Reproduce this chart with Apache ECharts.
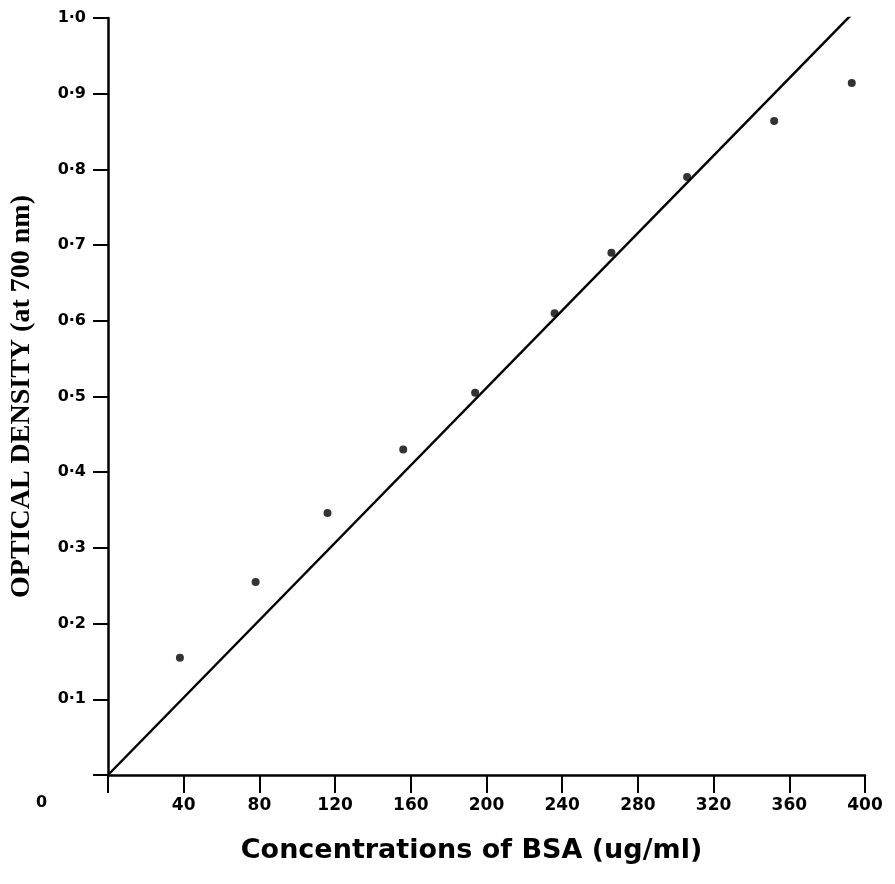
<!DOCTYPE html>
<html>
<head>
<meta charset="utf-8">
<script src="https://cdn.jsdelivr.net/npm/echarts@6/dist/echarts.min.js"></script>
<style>
  html, body { margin: 0; padding: 0; background: #fff; }
  #chart { width: 895px; height: 884px; }
</style>
</head>
<body>
<div id="chart"></div>
<script>
// measured points (concentration ug/ml, optical density)
const concentrations = [38, 78, 116, 156, 194, 236, 266, 306, 352, 393];
const densities = [0.155, 0.255, 0.346, 0.43, 0.505, 0.61, 0.69, 0.79, 0.864, 0.914];
// fitted straight line, drawn from its two ends
const lineX = [0, 395];
const lineY = [0, 1.01];
const xTickLabels = ['', '40', '80', '120', '160', '200', '240', '280', '320', '360', '400'];
const yTickLabels = ['', '0·1', '0·2', '0·3', '0·4', '0·5', '0·6', '0·7', '0·8', '0·9', '1·0'];

const chart = echarts.init(document.getElementById('chart'), null, { renderer: 'canvas' });

const handFont = '"DejaVu Sans", sans-serif';

chart.setOption({
  animation: false,
  backgroundColor: '#fff',
  grid: { left: 105, right: 30, top: 18, bottom: 109 },
  xAxis: {
    type: 'value',
    min: 0,
    max: 400,
    interval: 40,
    name: 'Concentrations of BSA (ug/ml)',
    nameLocation: 'middle',
    nameGap: 62,
    nameTextStyle: { fontFamily: '"DejaVu Sans", sans-serif', fontWeight: 'bold', fontSize: 27, color: '#000', padding: [0, 30, 0, 0] },
    axisLine: { lineStyle: { color: '#000', width: 2.5 } },
    axisTick: { length: 18, lineStyle: { color: '#000', width: 2 } },
    axisLabel: {
      margin: 22,
      fontFamily: handFont,
      fontWeight: 'bold',
      fontSize: 17,
      color: '#000',
      formatter: (v) => xTickLabels[Math.round(v / 40)]
    },
    splitLine: { show: false }
  },
  yAxis: {
    type: 'value',
    min: 0,
    max: 1.0,
    interval: 0.1,
    name: 'OPTICAL DENSITY (at 700 nm)',
    nameLocation: 'middle',
    nameGap: 72,
    nameTextStyle: { fontFamily: '"Liberation Serif", serif', fontWeight: 'bold', fontSize: 28, color: '#000' },
    axisLine: { lineStyle: { color: '#000', width: 2.5 } },
    axisTick: { length: 15, lineStyle: { color: '#000', width: 2 } },
    axisLabel: {
      margin: 22,
      fontFamily: handFont,
      fontWeight: 'bold',
      fontSize: 16,
      color: '#000',
      formatter: (v) => yTickLabels[Math.round(v * 10)]
    },
    splitLine: { show: false }
  },
  graphic: [
    {
      type: 'text',
      left: 36,
      top: 795,
      style: { text: '0', font: 'bold 16px "DejaVu Sans"', fill: '#000' }
    }
  ],
  series: [
    {
      type: 'line',
      data: lineX.map((x, i) => [x, lineY[i]]),
      symbol: 'none',
      lineStyle: { color: '#000', width: 2.5 },
      z: 2
    },
    {
      type: 'scatter',
      data: concentrations.map((x, i) => [x, densities[i]]),
      symbol: 'circle',
      symbolSize: 8,
      itemStyle: { color: '#000' },
      z: 3
    }
  ]
});
</script>
</body>
</html>
